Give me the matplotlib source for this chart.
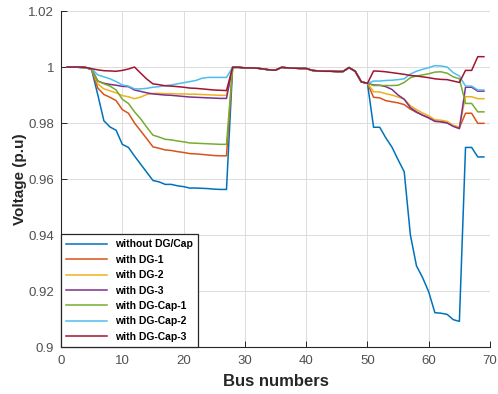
import matplotlib
matplotlib.use("Agg")
import matplotlib.pyplot as plt
from matplotlib.ticker import FuncFormatter

# bus numbers 1..69
bus = list(range(1, 70))

# laterals 28-50 are practically identical for every case
v_28_50 = [0.9999, 0.9999, 0.9997, 0.9997, 0.9996, 0.9993, 0.9990, 0.9989,
           0.9999, 0.9997, 0.9996, 0.9995, 0.9995, 0.9988, 0.9986, 0.9985,
           0.9985, 0.9984, 0.9984, 0.9998, 0.9985, 0.9947, 0.9942]

v_base = [1.0, 1.0, 0.9999, 0.9998, 0.9990, 0.9901, 0.9808, 0.9786, 0.9774,
          0.9724, 0.9713, 0.9682, 0.9653, 0.9624, 0.9595, 0.9590, 0.9581,
          0.9581, 0.9576, 0.9573, 0.9568, 0.9568, 0.9567, 0.9566, 0.9564,
          0.9563, 0.9563] + v_28_50 + \
         [0.9785, 0.9785, 0.9747, 0.9714, 0.9669, 0.9626, 0.9401, 0.9290,
          0.9248, 0.9197, 0.9123, 0.9121, 0.9117, 0.9098, 0.9092, 0.9713,
          0.9713, 0.9679, 0.9679]

v_dg1 = [1.0, 1.0, 0.9999, 0.9998, 0.9992, 0.9925, 0.9902, 0.9892, 0.9880,
         0.9848, 0.9835, 0.9800, 0.9772, 0.9744, 0.9715, 0.9710, 0.9704,
         0.9702, 0.9698, 0.9695, 0.9691, 0.9690, 0.9688, 0.9686, 0.9684,
         0.9683, 0.9683] + v_28_50 + \
        [0.9892, 0.9890, 0.9880, 0.9876, 0.9872, 0.9866, 0.9850, 0.9838,
         0.9828, 0.9820, 0.9808, 0.9806, 0.9803, 0.9790, 0.9783, 0.9835,
         0.9835, 0.9799, 0.9799]

v_dg2 = [1.0, 1.0, 0.9999, 0.9998, 0.9992, 0.9940, 0.9922, 0.9915, 0.9908,
         0.9898, 0.9894, 0.9887, 0.9893, 0.9902, 0.9906, 0.9906, 0.9905,
         0.9905, 0.9904, 0.9904, 0.9903, 0.9903, 0.9902, 0.9901, 0.9900,
         0.9899, 0.9899] + v_28_50 + \
        [0.9912, 0.9911, 0.9905, 0.9900, 0.9893, 0.9885, 0.9862, 0.9848,
         0.9836, 0.9826, 0.9812, 0.9810, 0.9806, 0.9792, 0.9786, 0.9894,
         0.9894, 0.9887, 0.9887]

v_dg3 = [1.0, 1.0, 0.9999, 0.9998, 0.9993, 0.9950, 0.9942, 0.9938, 0.9935,
         0.9931, 0.9930, 0.9918, 0.9913, 0.9908, 0.9904, 0.9902, 0.9900,
         0.9899, 0.9897, 0.9895, 0.9893, 0.9892, 0.9891, 0.9890, 0.9889,
         0.9888, 0.9888] + v_28_50 + \
        [0.9936, 0.9935, 0.9930, 0.9920, 0.9900, 0.9885, 0.9855, 0.9840,
         0.9828, 0.9818, 0.9806, 0.9804, 0.9800, 0.9788, 0.9780, 0.9928,
         0.9928, 0.9914, 0.9914]

v_dgcap1 = [1.0, 1.0, 0.9999, 0.9998, 0.9992, 0.9950, 0.9940, 0.9932, 0.9918,
            0.9885, 0.9870, 0.9840, 0.9815, 0.9785, 0.9757, 0.9750, 0.9742,
            0.9740, 0.9736, 0.9733, 0.9729, 0.9728, 0.9727, 0.9726, 0.9725,
            0.9724, 0.9724] + v_28_50 + \
           [0.9934, 0.9934, 0.9934, 0.9934, 0.9935, 0.9945, 0.9962, 0.9968,
            0.9972, 0.9976, 0.9982, 0.9983, 0.9978, 0.9965, 0.9958, 0.9870,
            0.9870, 0.9840, 0.9840]

v_dgcap2 = [1.0, 1.0, 0.9999, 0.9998, 0.9994, 0.9972, 0.9965, 0.9958, 0.9948,
            0.9936, 0.9932, 0.9922, 0.9922, 0.9924, 0.9928, 0.9930, 0.9934,
            0.9936, 0.9940, 0.9944, 0.9948, 0.9952, 0.9960, 0.9963, 0.9963,
            0.9963, 0.9963] + v_28_50 + \
           [0.9950, 0.9950, 0.9952, 0.9953, 0.9955, 0.9958, 0.9975, 0.9985,
            0.9992, 0.9998, 1.0005, 1.0004, 1.0000, 0.9980, 0.9968, 0.9932,
            0.9932, 0.9918, 0.9918]

v_dgcap3 = [1.0, 1.0, 1.0, 0.9999, 0.9994, 0.9990, 0.9987, 0.9986, 0.9985,
            0.9988, 0.9993, 1.0000, 0.9978, 0.9957, 0.9940, 0.9937, 0.9933,
            0.9932, 0.9930, 0.9928, 0.9925, 0.9924, 0.9922, 0.9920, 0.9918,
            0.9917, 0.9916] + v_28_50 + \
           [0.9986, 0.9985, 0.9983, 0.9980, 0.9977, 0.9974, 0.9970, 0.9968,
            0.9965, 0.9962, 0.9958, 0.9956, 0.9955, 0.9950, 0.9945, 0.9988,
            0.9988, 1.0037, 1.0037]

labels = ['without DG/Cap', 'with DG-1', 'with DG-2', 'with DG-3',
          'with DG-Cap-1', 'with DG-Cap-2', 'with DG-Cap-3']
series = [v_base, v_dg1, v_dg2, v_dg3, v_dgcap1, v_dgcap2, v_dgcap3]
colors = ['#0072BD', '#D95319', '#EDB120', '#7E2F8E', '#77AC30', '#4DBEEE', '#A2142F']

plt.rcParams['font.family'] = ['Liberation Sans', 'DejaVu Sans']

fig = plt.figure(figsize=(4.98, 3.94), dpi=100)
ax = fig.add_axes([0.1225, 0.119, 0.8615, 0.853])

for v, lab, c in zip(series, labels, colors):
    ax.plot(bus, v, color=c, lw=1.1, label=lab)

ax.set_xlim(0, 70)
ax.set_ylim(0.9, 1.02)
ax.set_xticks(range(0, 71, 10))
ax.set_yticks([0.9, 0.92, 0.94, 0.96, 0.98, 1.0, 1.02])
ax.yaxis.set_major_formatter(FuncFormatter(lambda y, p: f'{y:g}'))
ax.grid(True, color='#dcdcdc', lw=0.7)
ax.set_axisbelow(True)
for s in ['top', 'right']:
    ax.spines[s].set_visible(False)
for s in ['left', 'bottom']:
    ax.spines[s].set_color('#262626')
    ax.spines[s].set_linewidth(0.8)
ax.tick_params(direction='in', length=4, width=0.7, labelsize=9.5,
               colors='#262626', labelcolor='#505050')
ax.tick_params(axis='x', pad=6)
ax.tick_params(axis='y', pad=5)

ax.set_xlabel('Bus numbers', fontsize=12, fontweight='bold', color='#262626',
              labelpad=5)
ax.set_ylabel('Voltage (p.u)', fontsize=11, fontweight='bold', color='#262626',
              labelpad=1)

leg = ax.legend(loc='lower left', borderaxespad=0,
                prop={'weight': 'bold', 'size': 7.5}, handlelength=3.9,
                labelspacing=0.52, fancybox=False, framealpha=1,
                edgecolor='#262626', borderpad=0.5, handletextpad=0.8)
leg.get_frame().set_linewidth(0.9)

fig.savefig('out.png', dpi=100)
